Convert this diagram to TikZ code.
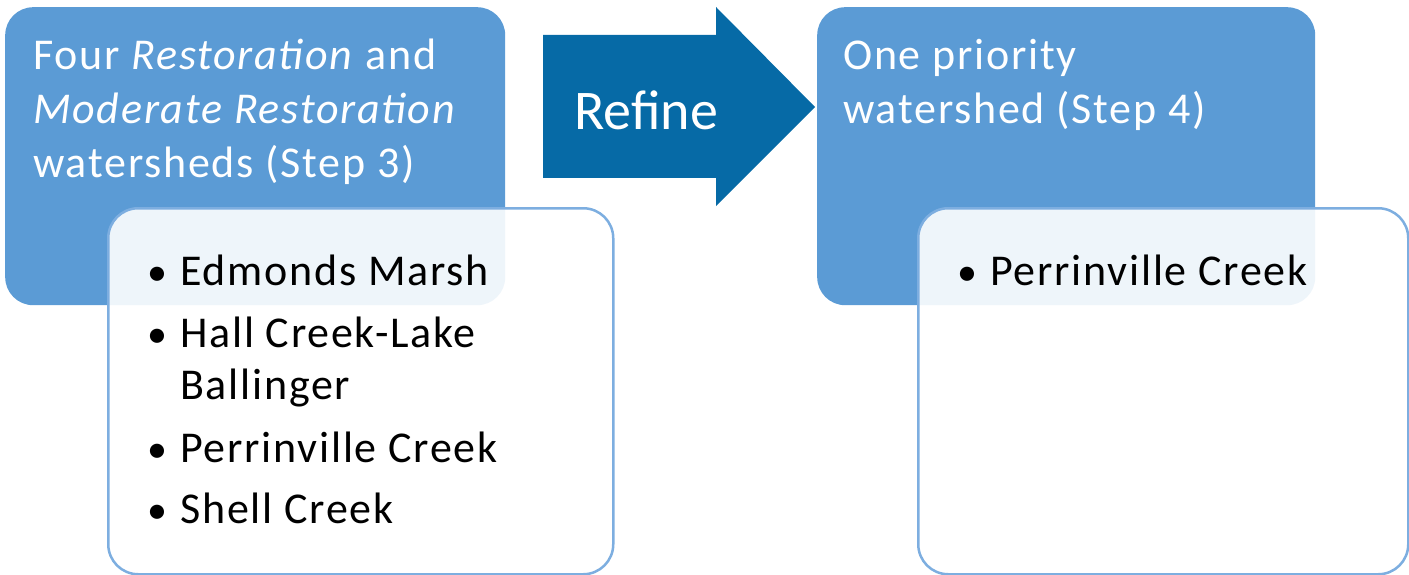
\documentclass[tikz,border=0pt]{standalone}
\usepackage{fontspec}
\setmainfont{Carlito}
\newfontfamily\widefont[LetterSpace=4]{Carlito}
\definecolor{boxblue}{RGB}{91,155,213}
\definecolor{arrowblue}{RGB}{6,106,166}
\definecolor{rimblue}{RGB}{125,174,224}
\begin{document}
\begin{tikzpicture}[x=1pt,y=-1pt,
  bluebox/.style={anchor=north west, fill=boxblue, rounded corners=28pt, inner sep=0pt},
  whitebox/.style={anchor=north west, fill=white, fill opacity=0.9, draw=rimblue, draw opacity=1, line width=2.5pt, rounded corners=30pt, inner sep=0pt},
  headtxt/.style={anchor=base west, inner sep=0pt, text=white, font=\widefont\fontsize{44}{54}\selectfont},
  itemtxt/.style={anchor=base west, inner sep=0pt, text=black, font=\widefont\fontsize{44}{54}\selectfont},
  bul/.style={anchor=base, inner sep=0pt, text=black, font=\fontsize{40}{54}\selectfont}
]
\useasboundingbox (0,0) rectangle (1409,575);
% blue boxes
\node[bluebox, minimum width=500pt, minimum height=298pt] (b1) at (5,7) {};
\node[bluebox, minimum width=498pt, minimum height=298pt] (b2) at (817,7) {};
% arrow
\fill[arrowblue] (543,35) -- (716,35) -- (716,7) -- (815,107) -- (716,206) -- (716,178) -- (543,178) -- cycle;
\node[anchor=base west, inner sep=0pt, text=white, font=\fontsize{56}{70}\selectfont] (refine) at (574,130) {Refine};
% white boxes
\node[whitebox, minimum width=505pt, minimum height=366pt] (w1) at (107,207) {};
\node[whitebox, minimum width=490pt, minimum height=366pt] (w2) at (917,207) {};
% left heading
\node[headtxt] (h1a) at (33,70) {Four \textit{Restoration} and};
\node[headtxt] (h1b) at (33,124) {\textit{Moderate Restoration}};
\node[headtxt] (h1c) at (33,178) {watersheds (Step 3)};
% right heading
\node[headtxt] (h2a) at (843,70) {One priority};
\node[headtxt] (h2b) at (843,124) {watershed (Step 4)};
% left list
\node[bul] (p1) at (157,285) {•};
\node[itemtxt] (i1) at (180,285) {Edmonds Marsh};
\node[bul] (p2) at (157,347) {•};
\node[itemtxt] (i2a) at (180,347) {Hall Creek-Lake};
\node[itemtxt] (i2b) at (180,399) {Ballinger};
\node[bul] (p3) at (157,462) {•};
\node[itemtxt] (i3) at (180,462) {Perrinville Creek};
\node[bul] (p4) at (157,523) {•};
\node[itemtxt] (i4) at (180,523) {Shell Creek};
% right list
\node[bul] (q1) at (967,285) {•};
\node[itemtxt] (j1) at (990,285) {Perrinville Creek};
\end{tikzpicture}
\end{document}
